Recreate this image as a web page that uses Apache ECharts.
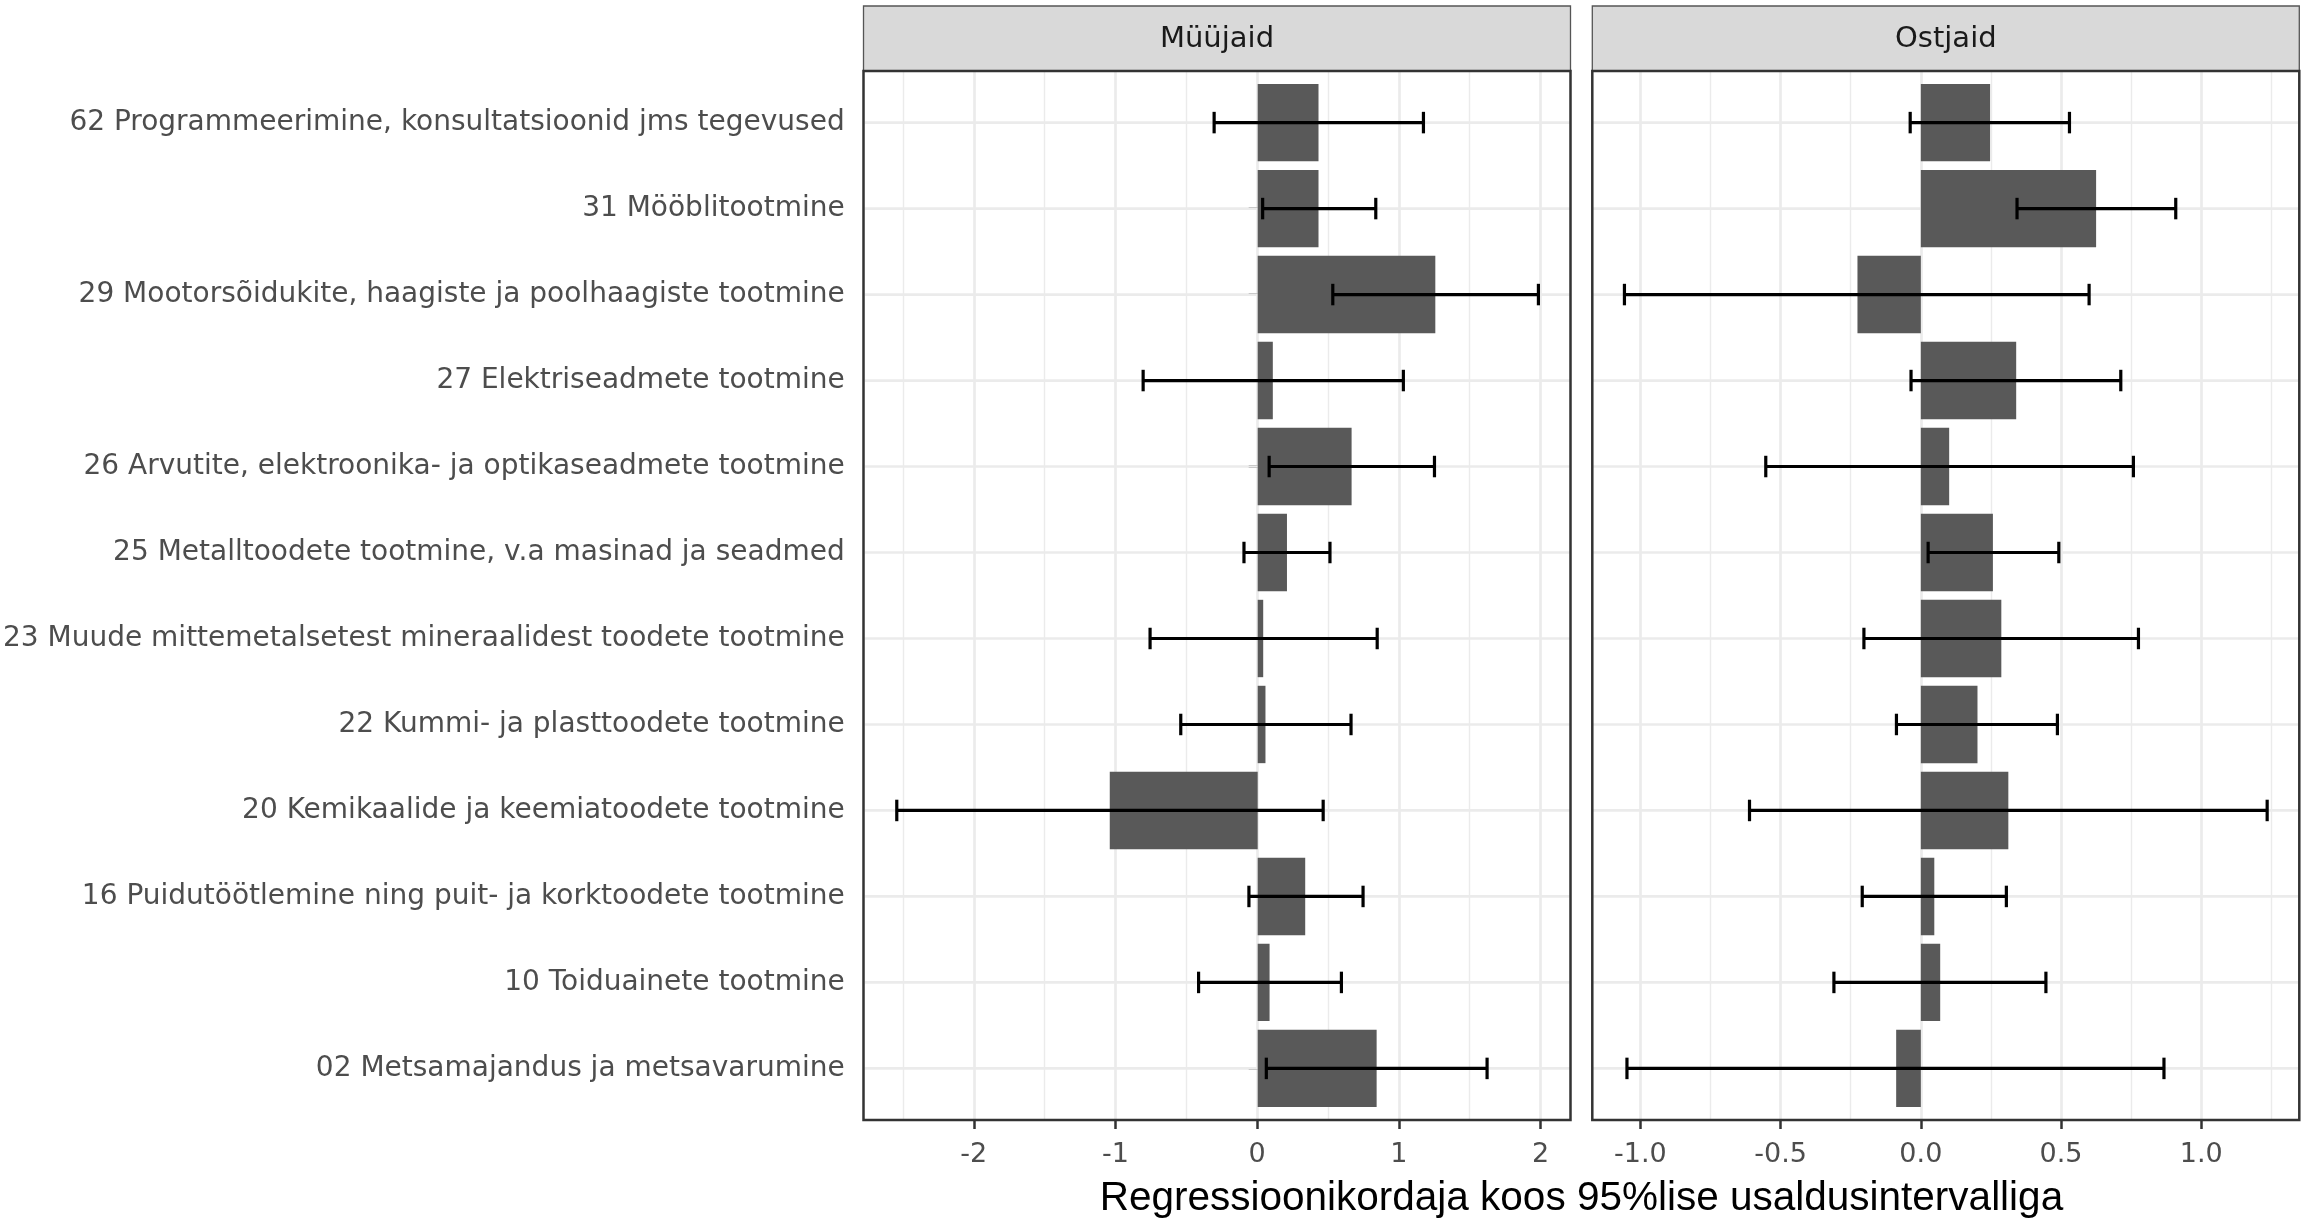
<!DOCTYPE html>
<html>
<head>
<meta charset="utf-8">
<script src="https://cdn.jsdelivr.net/npm/echarts@6/dist/echarts.min.js"></script>
<style>
html,body{margin:0;padding:0;background:#fff;}
#chart{width:2310px;height:1219px;}
</style>
</head>
<body>
<div id="chart"></div>
<script>
// ---------- data ----------
const categories = [
  "62 Programmeerimine, konsultatsioonid jms tegevused",
  "31 Mööblitootmine",
  "29 Mootorsõidukite, haagiste ja poolhaagiste tootmine",
  "27 Elektriseadmete tootmine",
  "26 Arvutite, elektroonika- ja optikaseadmete tootmine",
  "25 Metalltoodete tootmine, v.a masinad ja seadmed",
  "23 Muude mittemetalsetest mineraalidest toodete tootmine",
  "22 Kummi- ja plasttoodete tootmine",
  "20 Kemikaalide ja keemiatoodete tootmine",
  "16 Puidutöötlemine ning puit- ja korktoodete tootmine",
  "10 Toiduainete tootmine",
  "02 Metsamajandus ja metsavarumine"
];
const panelTitles = ["Müüjaid", "Ostjaid"];
const xTitle = "Regressioonikordaja koos 95%lise usaldusintervalliga";

const sellEst  = [0.430, 0.430, 1.256, 0.107, 0.664, 0.207, 0.039, 0.055, -1.046, 0.336, 0.084, 0.841];
const sellLow  = [-0.308, 0.035, 0.531, -0.810, 0.081, -0.097, -0.761, -0.544, -2.552, -0.062, -0.418, 0.061];
const sellHigh = [1.172, 0.835, 1.985, 1.030, 1.250, 0.511, 0.845, 0.660, 0.463, 0.745, 0.592, 1.622];

const buyEst   = [0.247, 0.625, -0.226, 0.340, 0.101, 0.257, 0.287, 0.202, 0.312, 0.048, 0.069, -0.088];
const buyLow   = [-0.038, 0.343, -1.057, -0.035, -0.553, 0.026, -0.203, -0.087, -0.611, -0.209, -0.310, -1.048];
const buyHigh  = [0.530, 0.909, 0.600, 0.713, 0.758, 0.492, 0.776, 0.487, 1.235, 0.305, 0.446, 0.867];

const xTicksSell = [-2, -1, 0, 1, 2];
const xTicksBuy  = [-1.0, -0.5, 0.0, 0.5, 1.0];

// ---------- layout ----------
const L = {
  panelW: 707,
  leftX: [863.5, 1592.3],
  top: 71,
  bottom: 1120,
  stripTop: 6,
  expandCat: 0.6
};
const panelH = L.bottom - L.top;
const unit = panelH / (categories.length - 1 + 2 * L.expandCat);
const rowsTop = L.top + (L.expandCat - 0.5) * unit;
const rowsH = unit * categories.length;

function expandRange(arrs) {
  const all = [].concat(...arrs, [0]);
  const lo = Math.min(...all), hi = Math.max(...all);
  const pad = (hi - lo) * 0.05;
  return [lo - pad, hi + pad];
}
const sellRange = expandRange([sellEst, sellLow, sellHigh]);
const buyRange  = expandRange([buyEst, buyLow, buyHigh]);

const AXIS_TEXT = '#4D4D4D';
const DARK = '#333333';
const GRID = '#EBEBEB';
const LABEL_FONT = 'DejaVu Sans';

const chart = echarts.init(document.getElementById('chart'), null, {renderer: 'canvas'});

const grids = [];
const xAxes = [];
const yAxes = [];
const series = [];
const graphics = [];

const panels = [
  {range: sellRange, est: sellEst, low: sellLow, high: sellHigh, ticks: xTicksSell, fmt: v => String(Math.round(v))},
  {range: buyRange,  est: buyEst,  low: buyLow,  high: buyHigh,  ticks: xTicksBuy,  fmt: v => v.toFixed(1)}
];

panels.forEach((p, k) => {
  const left = L.leftX[k];
  const gFrame = grids.length;
  grids.push({left: left, top: L.top, width: L.panelW, height: panelH, show: false, containLabel: false});
  const gRows = grids.length;
  grids.push({left: left, top: rowsTop, width: L.panelW, height: rowsH, show: false, containLabel: false});

  // frame axes
  xAxes.push({
    gridIndex: gFrame, type: 'value', min: p.range[0], max: p.range[1],
    axisLine: {show: false},
    axisTick: {show: true, customValues: p.ticks, length: 9, lineStyle: {color: DARK, width: 2.5}},
    axisLabel: {show: true, customValues: p.ticks, formatter: p.fmt, margin: 21,
      fontSize: 27, color: AXIS_TEXT, fontFamily: LABEL_FONT},
    splitLine: {show: true, lineStyle: {color: GRID, width: 2.7}},
    minorTick: {show: false, splitNumber: 2},
    minorSplitLine: {show: true, lineStyle: {color: GRID, width: 1.4}}
  });
  yAxes.push({gridIndex: gFrame, type: 'value', min: 0, max: 1, show: false});

  // rows axes
  const xr = xAxes.length;
  xAxes.push({gridIndex: gRows, type: 'value', min: p.range[0], max: p.range[1], show: false});
  const yr = yAxes.length;
  yAxes.push({
    gridIndex: gRows, type: 'category', data: categories, inverse: true,
    show: true,
    axisLine: {show: false},
    axisTick: {show: k === 0, alignWithLabel: true, length: 9, lineStyle: {color: DARK, width: 2.5}},
    axisLabel: {show: k === 0, margin: 20, fontSize: 28, color: AXIS_TEXT, fontFamily: LABEL_FONT},
    splitLine: {show: false}
  });

  // horizontal grid lines at category centres
  series.push({
    type: 'custom', xAxisIndex: xr, yAxisIndex: yr, z: 1, silent: true,
    data: categories.map((c, i) => [0, i]),
    encode: {x: 0, y: 1},
    renderItem: function (params, api) {
      const cs = params.coordSys;
      const y = api.coord([0, api.value(1)])[1];
      return {type: 'line', shape: {x1: cs.x, y1: y, x2: cs.x + cs.width, y2: y},
        style: {stroke: GRID, lineWidth: 2.7}};
    }
  });

  // bars
  series.push({
    type: 'bar', xAxisIndex: xr, yAxisIndex: yr, z: 2, silent: true,
    data: p.est, barWidth: '90%',
    itemStyle: {color: '#595959'}
  });

  // error bars
  series.push({
    type: 'custom', xAxisIndex: xr, yAxisIndex: yr, z: 3, silent: true,
    data: p.low.map((lo, i) => [lo, p.high[i], i]),
    encode: {x: [0, 1], y: 2},
    renderItem: function (params, api) {
      const a = api.coord([api.value(0), api.value(2)]);
      const b = api.coord([api.value(1), api.value(2)]);
      const h = api.size([0, 1])[1] * 0.125;
      const st = {stroke: '#000', lineWidth: 3.2};
      return {type: 'group', children: [
        {type: 'line', shape: {x1: a[0], y1: a[1], x2: b[0], y2: b[1]}, style: st},
        {type: 'line', shape: {x1: a[0], y1: a[1] - h, x2: a[0], y2: a[1] + h}, style: st},
        {type: 'line', shape: {x1: b[0], y1: b[1] - h, x2: b[0], y2: b[1] + h}, style: st}
      ]};
    }
  });

  // panel border
  graphics.push({type: 'rect', z: 100, silent: true,
    shape: {x: left, y: L.top, width: L.panelW, height: panelH},
    style: {fill: 'none', stroke: DARK, lineWidth: 2.5}});
  // strip
  graphics.push({type: 'rect', z: 99, silent: true,
    shape: {x: left, y: L.stripTop, width: L.panelW, height: L.top - L.stripTop},
    style: {fill: '#D9D9D9', stroke: '#555555', lineWidth: 1.3}});
  graphics.push({type: 'text', z: 101, silent: true,
    x: left + L.panelW / 2, y: (L.stripTop + L.top) / 2 + 1,
    style: {text: panelTitles[k], fill: '#1A1A1A', font: '29px "DejaVu Sans"',
      align: 'center', verticalAlign: 'middle'}});
});

// x axis title centred on both panels
graphics.push({type: 'text', z: 101, silent: true,
  x: (L.leftX[0] + L.leftX[1] + L.panelW) / 2, y: 1199,
  style: {text: xTitle, fill: '#000000', font: '40.5px "Liberation Sans"',
    align: 'center', verticalAlign: 'middle'}});

chart.setOption({
  animation: false,
  backgroundColor: '#ffffff',
  grid: grids,
  xAxis: xAxes,
  yAxis: yAxes,
  series: series,
  graphic: graphics
});
</script>
</body>
</html>
